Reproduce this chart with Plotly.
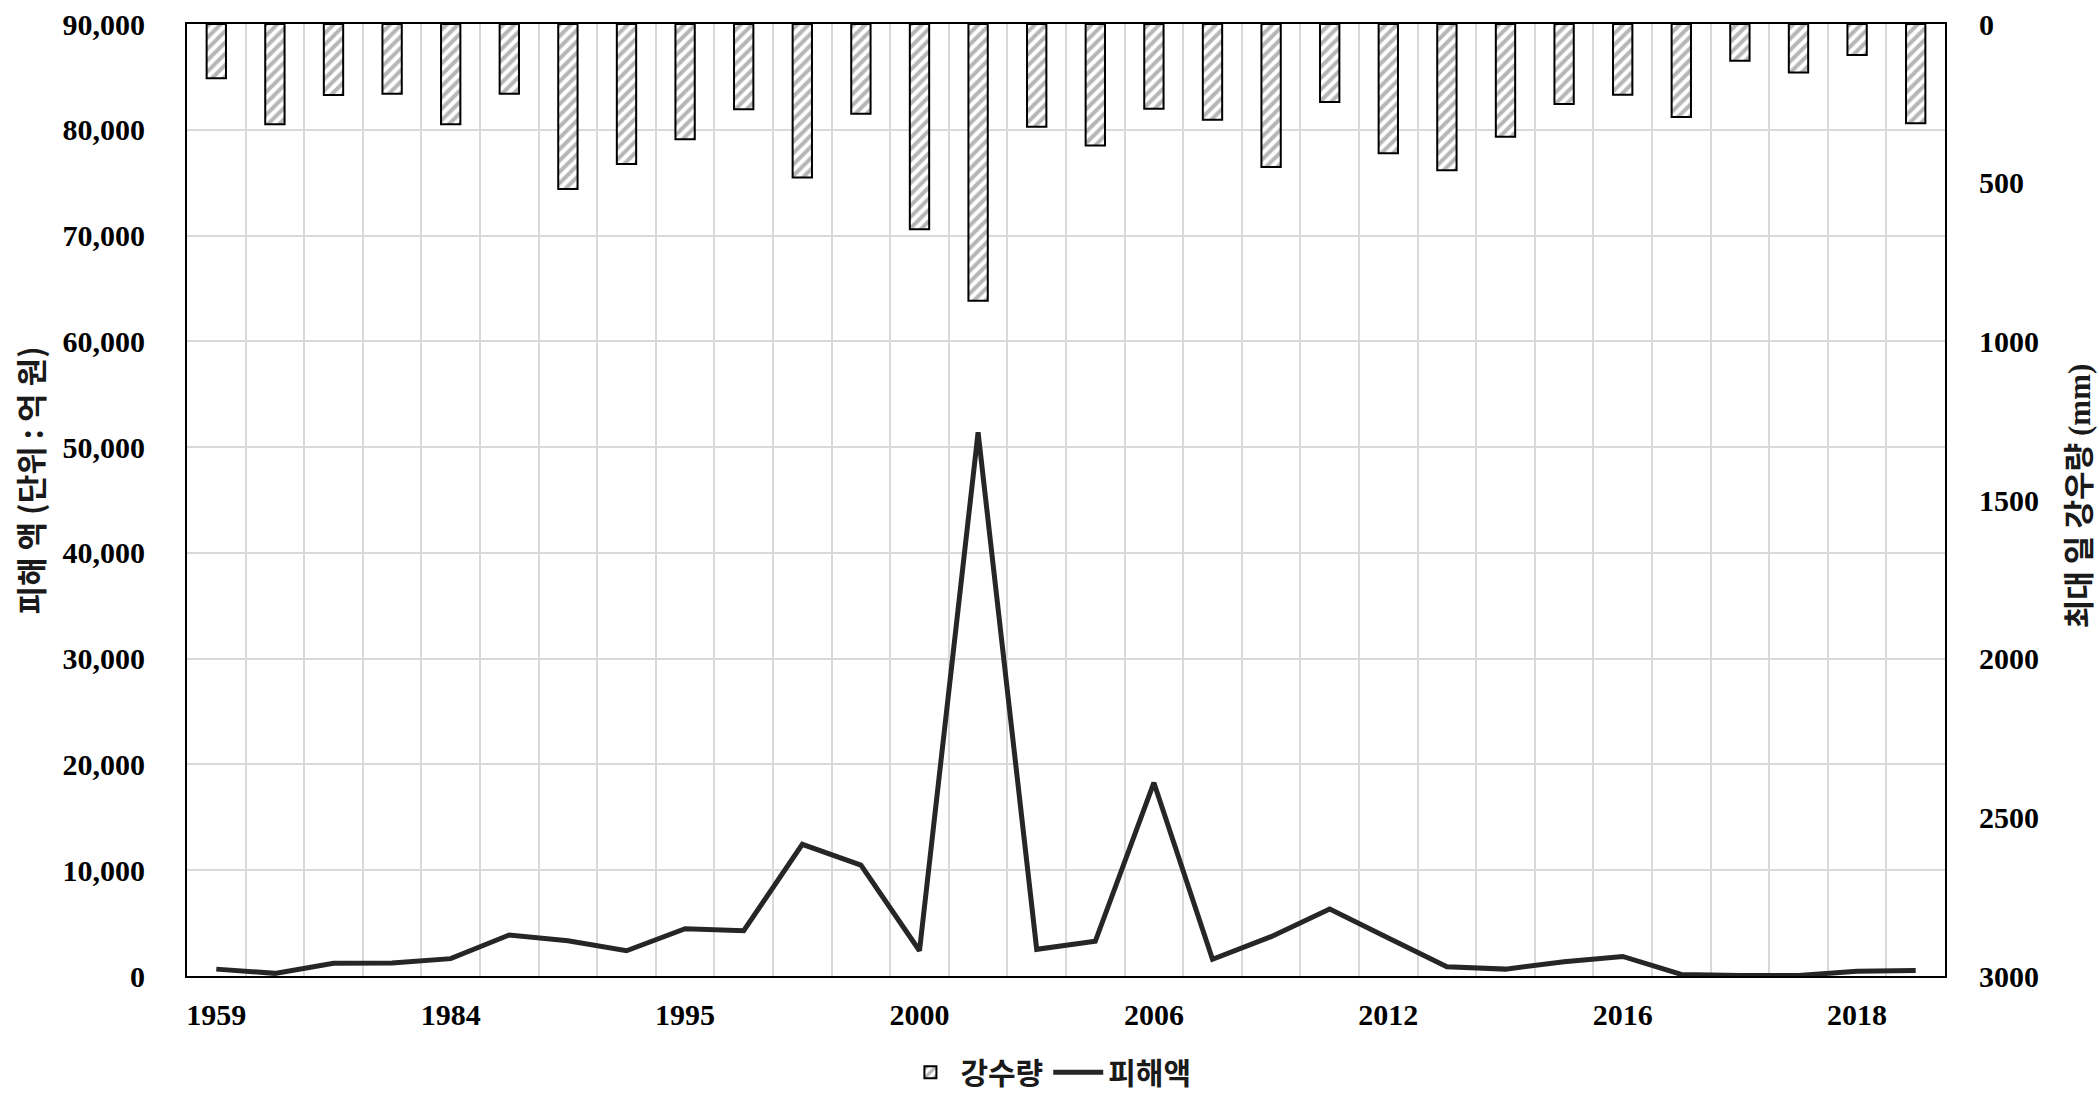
import plotly.graph_objects as go

# ---- data ----
years = ["1959", "1962", "1972", "1979", "1984", "1985", "1987", "1989", "1995", "1997",
         "1998", "1999", "2000", "2002", "2003", "2004", "2006", "2007", "2010", "2011",
         "2012", "2012", "2013", "2014", "2016", "2016", "2017", "2018", "2018", "2019"]
rainfall = [171, 316, 224, 220, 316, 220, 520, 441, 363, 269,
            484, 283, 647, 872, 324, 383, 267, 302, 451, 246,
            407, 461, 355, 252, 223, 293, 116, 153, 98, 313]
damage = [650, 250, 1200, 1230, 1640, 3880, 3340, 2390, 4470, 4280,
          12450, 10490, 2390, 51400, 2520, 3280, 18270, 1580, 3720, 6330,
          3600, 880, 650, 1350, 1850, 150, 50, 50, 450, 520]
label_every = 4

categories = [f"{i + 1:02d}_{y}" for i, y in enumerate(years)]
ticktext = [y if i % label_every == 0 else "" for i, y in enumerate(years)]

KR = "Noto Sans CJK KR"
SERIF = "Liberation Serif"

fig = go.Figure()
fig.add_trace(go.Bar(
    x=categories, y=rainfall, name="강수량", yaxis="y2",
    marker=dict(color="white", line=dict(color="black", width=2),
                pattern=dict(shape="/", fgcolor="#6e6e6e", bgcolor="white",
                             size=8, solidity=0.5)),
))
fig.add_trace(go.Scatter(
    x=categories, y=damage, name="피해액", mode="lines", yaxis="y",
    line=dict(color="#262626", width=5),
))

fig.update_layout(
    width=2099, height=1096,
    margin=dict(l=187, r=154, t=24, b=120, autoexpand=False),
    paper_bgcolor="white", plot_bgcolor="white",
    bargap=0.67,
    showlegend=True,
    legend=dict(orientation="h", x=0.49, xanchor="center", y=-0.101, yanchor="middle",
                font=dict(family=KR, size=30, color="#1a1a1a", weight="bold"),
                itemwidth=50, traceorder="normal"),
    xaxis=dict(type="category", categoryorder="array", categoryarray=categories,
               tickmode="array", tickvals=categories, ticktext=ticktext, tickangle=0,
               tickson="boundaries", ticks="", showgrid=True, gridcolor="#d9d9d9", gridwidth=2,
               showline=True, linecolor="black", linewidth=2, mirror=True, automargin=False,
               tickfont=dict(family=SERIF, size=30, color="black", weight="bold"),
               ticklabelstandoff=11),
    yaxis=dict(range=[0, 90000], dtick=10000, tickformat=",d", automargin=False,
               showgrid=True, gridcolor="#d9d9d9", gridwidth=2,
               showline=True, linecolor="black", linewidth=2, ticks="",
               zeroline=False,
               tickfont=dict(family=SERIF, size=30, color="black", weight="bold"),
               ticklabelstandoff=34),
    yaxis2=dict(range=[3000, 0], dtick=500, overlaying="y", side="right", automargin=False,
                showgrid=False, showline=True, linecolor="black", linewidth=2, ticks="",
                zeroline=False,
                tickfont=dict(family=SERIF, size=30, color="black", weight="bold"),
                ticklabelstandoff=26),
    annotations=[
        dict(text="피해 액 (단위 : 억 원)", xref="paper", yref="paper", x=-0.0895, y=0.52,
             xanchor="center", yanchor="middle", textangle=-90, showarrow=False,
             font=dict(family=KR, size=31, color="#1a1a1a", weight="bold")),
        dict(text="최대 일 강우량 <span style='font-family:Liberation Serif'>(mm)</span>",
             xref="paper", yref="paper", x=1.0745, y=0.505,
             xanchor="center", yanchor="middle", textangle=-90, showarrow=False,
             font=dict(family=KR, size=31, color="#1a1a1a", weight="bold")),
    ],
)

# remove the browser's default body margin so the figure fills the window exactly
fig.write_html("out.html", config={"displayModeBar": False},
               post_script="document.body.style.margin='0';document.body.style.overflow='hidden';")
